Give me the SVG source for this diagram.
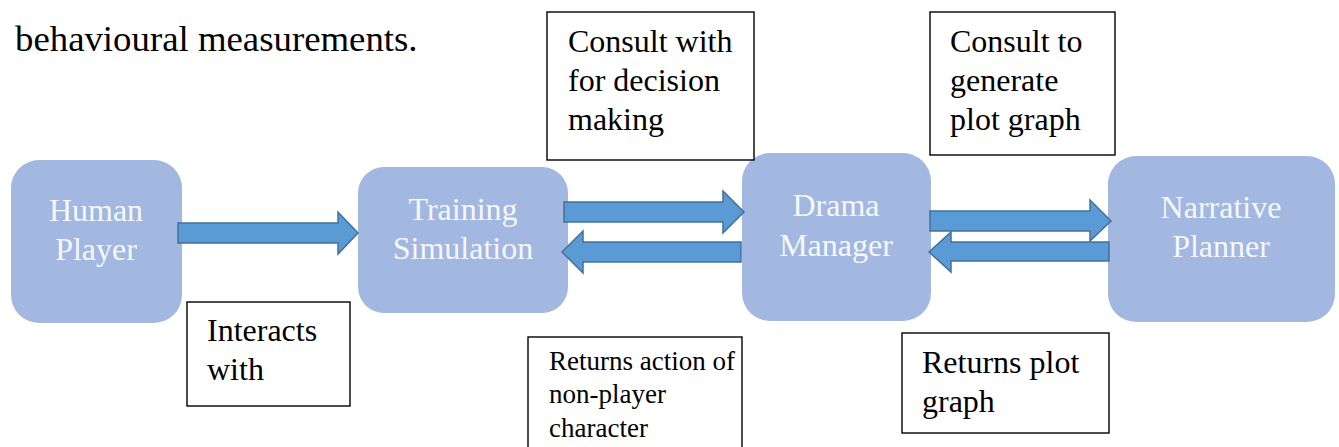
<svg xmlns="http://www.w3.org/2000/svg" width="1339" height="447" viewBox="0 0 1339 447">
<style>
.node{fill:#A3B8E0;}
.ntxt{font-family:"Liberation Serif", serif;font-size:32px;fill:#F5F7FC;text-anchor:middle;}
.lbl{fill:#FFFFFF;stroke:#000000;stroke-width:1.4;}
.ltxt{font-family:"Liberation Serif", serif;font-size:32px;fill:#000000;}
.stxt{font-family:"Liberation Serif", serif;font-size:27px;fill:#000000;}
.body{font-family:"Liberation Serif", serif;font-size:36.8px;fill:#000000;}
.arr{fill:#5B9BD5;stroke:#41719C;stroke-width:1.5;stroke-linejoin:miter;}
</style>
<rect width="1339" height="447" fill="#FFFFFF"/>
<text class="body" x="15" y="51">behavioural measurements.</text>

<g id="node-human-player">
<rect class="node" x="11" y="160" width="171" height="163" rx="28"/>
<text class="ntxt" x="96" y="221">Human</text>
<text class="ntxt" x="96" y="260">Player</text>
</g>
<g id="node-training-simulation">
<rect class="node" x="358" y="167" width="210" height="146" rx="26"/>
<text class="ntxt" x="463" y="220">Training</text>
<text class="ntxt" x="463" y="259">Simulation</text>
</g>
<g id="node-drama-manager">
<rect class="node" x="742" y="153" width="189" height="168" rx="28"/>
<text class="ntxt" x="836" y="216">Drama</text>
<text class="ntxt" x="836" y="256">Manager</text>
</g>
<g id="node-narrative-planner">
<rect class="node" x="1108" y="156" width="227" height="166" rx="28"/>
<text class="ntxt" x="1221" y="218">Narrative</text>
<text class="ntxt" x="1221" y="257">Planner</text>
</g>

<g id="connectors">
<polygon class="arr" points="178,223 338,223 338,212 358,233 338,254 338,243 178,243"/>
<polygon class="arr" points="564,202 723,202 723,191 744,212 723,233 723,222 564,222"/>
<polygon class="arr" points="741,242 583,242 583,231 562,252 583,273 583,262 741,262"/>
<polygon class="arr" points="930,211 1090,211 1090,200 1111,221 1090,241 1090,231 930,231"/>
<polygon class="arr" points="1109,242 951,242 951,232 929,252 951,272 951,261 1109,261"/>
</g>

<g id="label-consult-with">
<rect class="lbl" x="547" y="12" width="207" height="148"/>
<text class="ltxt" x="568" y="52">Consult with</text>
<text class="ltxt" x="568" y="91">for decision</text>
<text class="ltxt" x="568" y="130">making</text>
</g>
<g id="label-consult-to">
<rect class="lbl" x="930" y="12" width="185" height="143"/>
<text class="ltxt" x="950" y="52">Consult to</text>
<text class="ltxt" x="950" y="91">generate</text>
<text class="ltxt" x="950" y="130">plot graph</text>
</g>
<g id="label-interacts-with">
<rect class="lbl" x="187" y="302" width="163" height="104"/>
<text class="ltxt" x="207" y="341">Interacts</text>
<text class="ltxt" x="207" y="380">with</text>
</g>
<g id="label-returns-action">
<rect class="lbl" x="528" y="337" width="214" height="130"/>
<text class="stxt" x="549" y="370">Returns action of</text>
<text class="stxt" x="549" y="403">non-player</text>
<text class="stxt" x="549" y="437">character</text>
</g>
<g id="label-returns-plot">
<rect class="lbl" x="902" y="333" width="207" height="100"/>
<text class="ltxt" x="922" y="373">Returns plot</text>
<text class="ltxt" x="922" y="412">graph</text>
</g>
</svg>
